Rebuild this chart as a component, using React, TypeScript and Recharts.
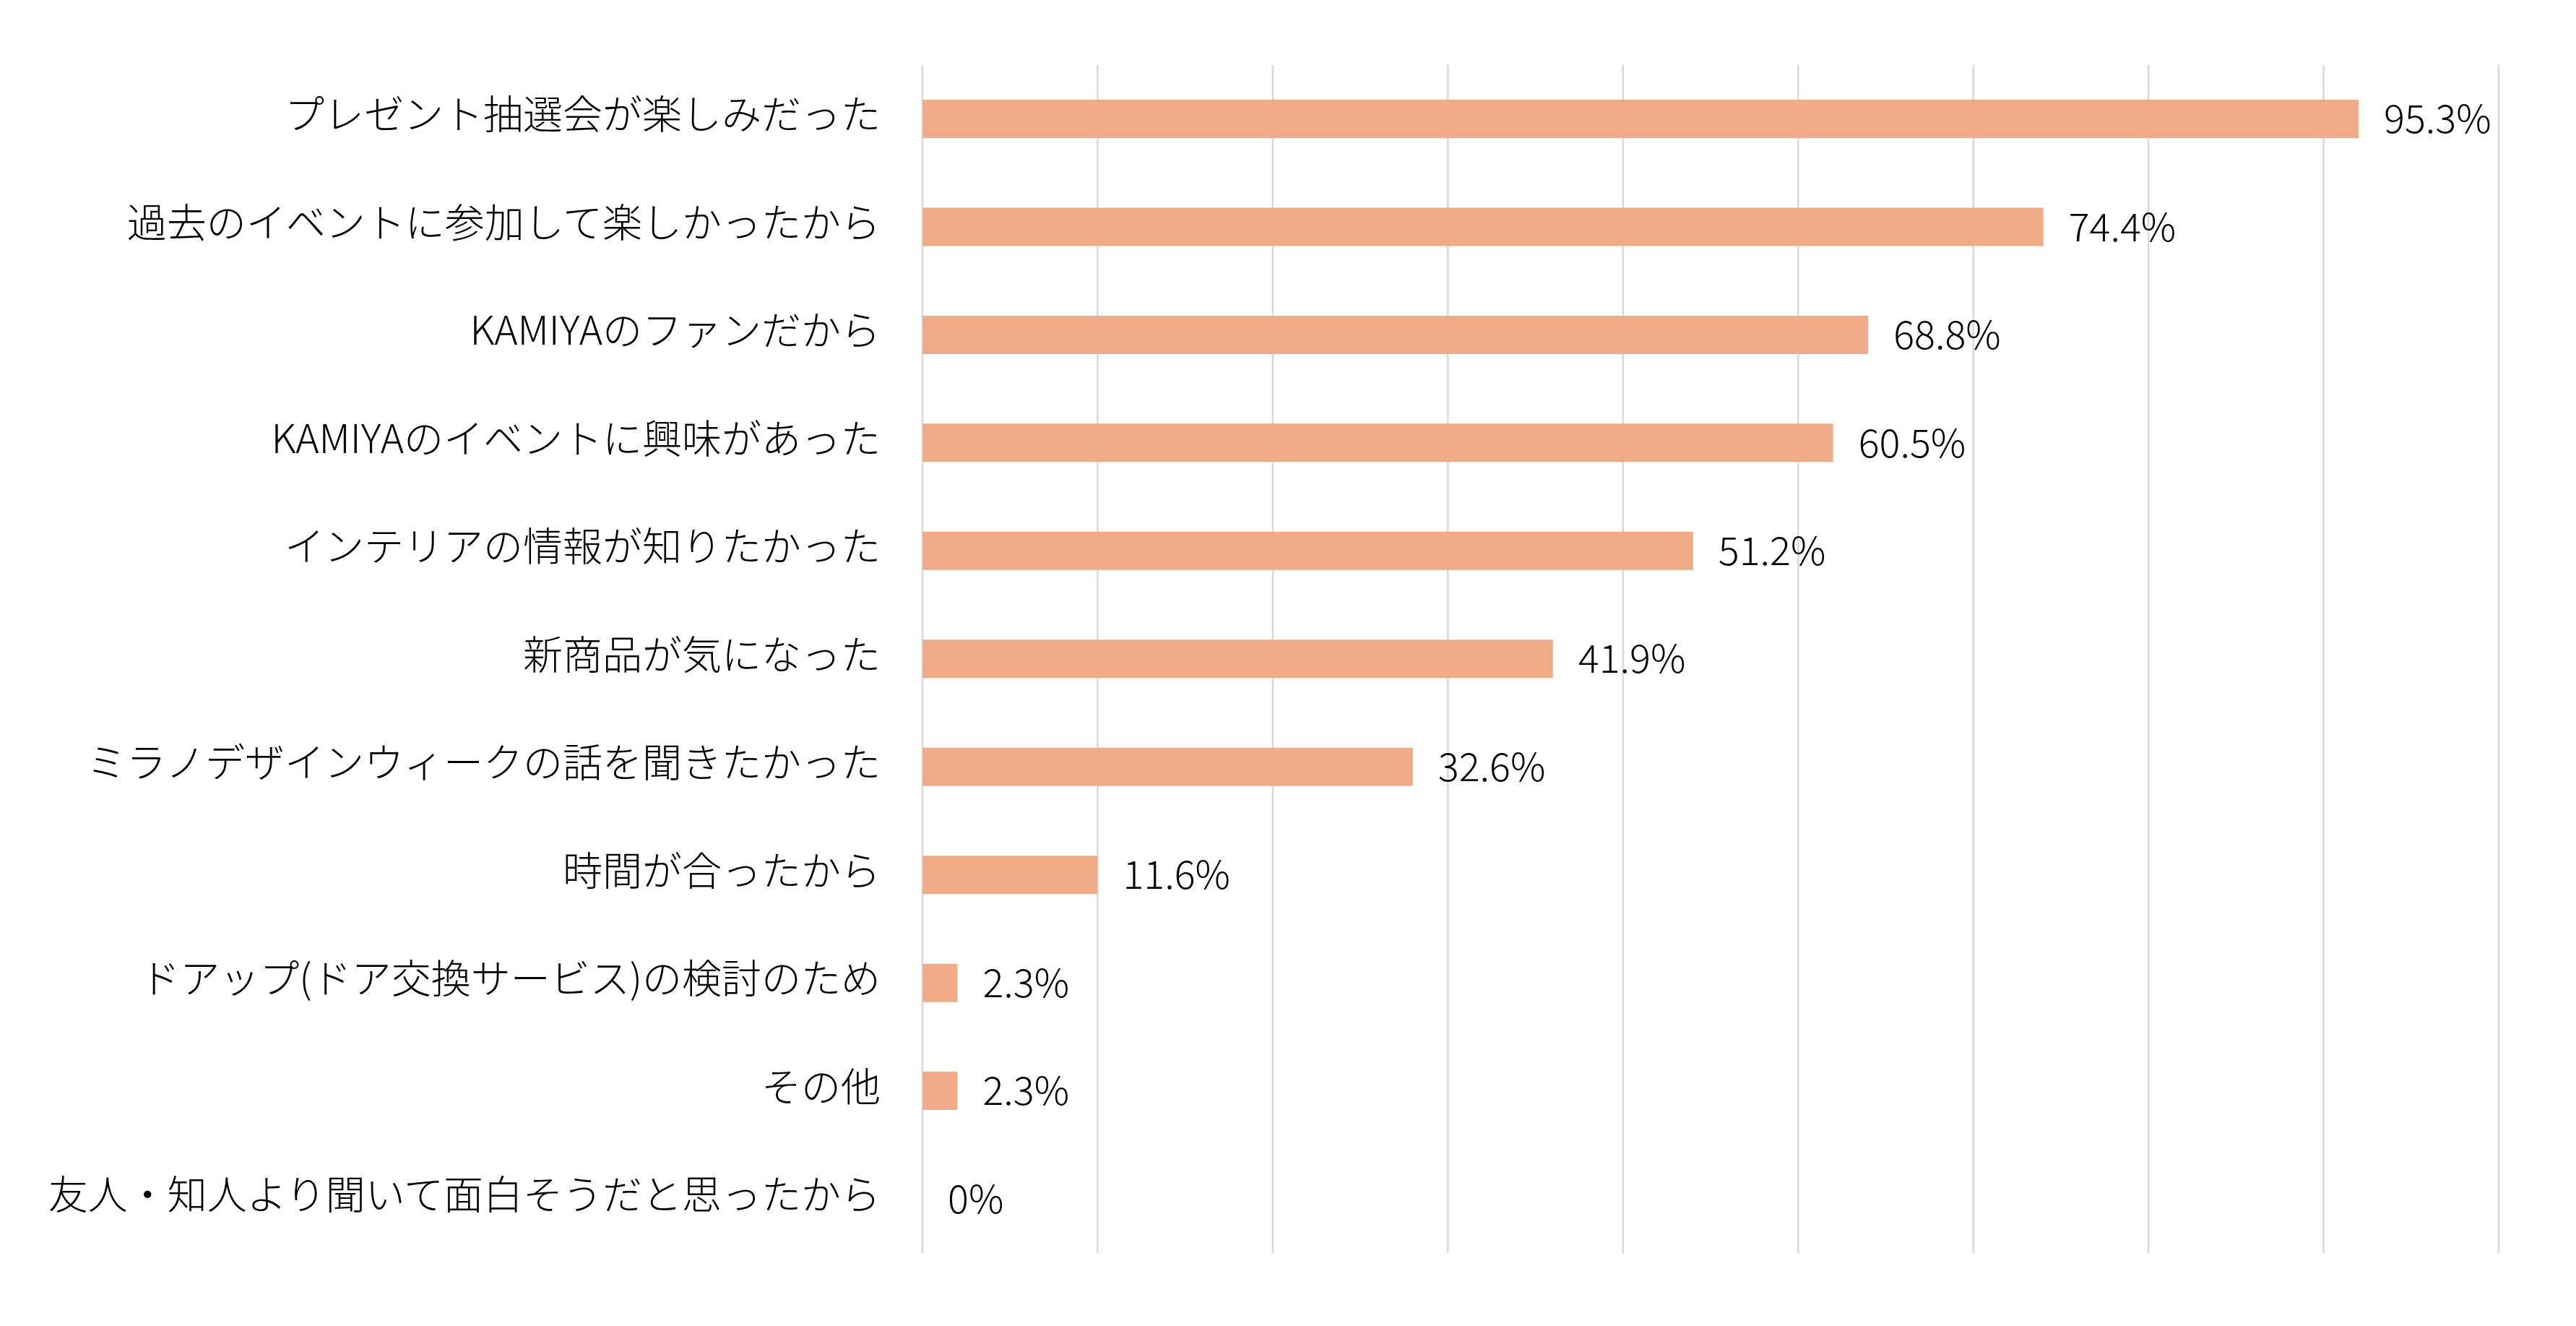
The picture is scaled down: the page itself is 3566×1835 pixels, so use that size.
import React from 'react';
import { ComposedChart, Bar, Scatter, XAxis, YAxis, CartesianGrid } from 'recharts';

// 回答理由（上から順）
const reasons = [
  'プレゼント抽選会が楽しみだった',
  '過去のイベントに参加して楽しかったから',
  'KAMIYAのファンだから',
  'KAMIYAのイベントに興味があった',
  'インテリアの情報が知りたかった',
  '新商品が気になった',
  'ミラノデザインウィークの話を聞きたかった',
  '時間が合ったから',
  'ドアップ(ドア交換サービス)の検討のため',
  'その他',
  '友人・知人より聞いて面白そうだと思ったから',
];

// 回答数（n=43）
const counts = [41, 32, 27, 26, 22, 18, 14, 5, 1, 1, 0];

// 表示ラベル（元の図のまま）
const percentLabels = ['95.3%', '74.4%', '68.8%', '60.5%', '51.2%', '41.9%', '32.6%', '11.6%', '2.3%', '2.3%', '0%'];

const xTicks = [0, 5, 10, 15, 20, 25, 30, 35, 40, 45];

const data = reasons.map((name, i) => ({ name, count: counts[i], label: percentLabels[i] }));

const FONT = '"Noto Sans CJK JP", "Noto Sans", sans-serif';

const CategoryTick = ({ x, y, payload }: { x?: number; y?: number; payload?: { value: string } }) => (
  <text
    x={x}
    y={y}
    dy="0.25em"
    textAnchor="end"
    fill="#000"
    fontSize={55}
    fontWeight={300}
    fontFamily={FONT}
  >
    {payload?.value}
  </text>
);

// 値ラベル（0件でも表示されるよう散布点の位置に描く）
const ValueLabel = (props: { cx?: number; cy?: number; payload?: { label: string } }) => {
  const { cx, cy, payload } = props;
  if (cx == null || cy == null) return <g />;
  return (
    <text
      x={cx + 35}
      y={cy}
      dy="0.36em"
      textAnchor="start"
      fill="#000"
      fontSize={54}
      fontWeight={300}
      fontFamily={FONT}
    >
      {payload?.label}
    </text>
  );
};

const App: React.FC = () => {
  return (
    <div style={{ position: 'absolute', left: 0, top: 0, width: 3566, height: 1835, background: '#fff' }}>
      <ComposedChart
        layout="vertical"
        width={3566}
        height={1835}
        data={data}
        margin={{ top: 90, right: 107, bottom: 101, left: 0 }}
      >
        <CartesianGrid horizontal={false} stroke="#d9d9d9" strokeWidth={2.5} />
        <XAxis type="number" dataKey="count" domain={[0, 45]} ticks={xTicks} hide />
        <YAxis
          type="category"
          dataKey="name"
          width={1277}
          axisLine={false}
          tickLine={false}
          tickSize={0}
          tickMargin={58}
          interval={0}
          tick={<CategoryTick />}
        />
        <Bar dataKey="count" fill="#F1AB86" barSize={53} isAnimationActive={false} />
        <Scatter dataKey="count" shape={<ValueLabel />} isAnimationActive={false} />
      </ComposedChart>
    </div>
  );
};

export default App;
